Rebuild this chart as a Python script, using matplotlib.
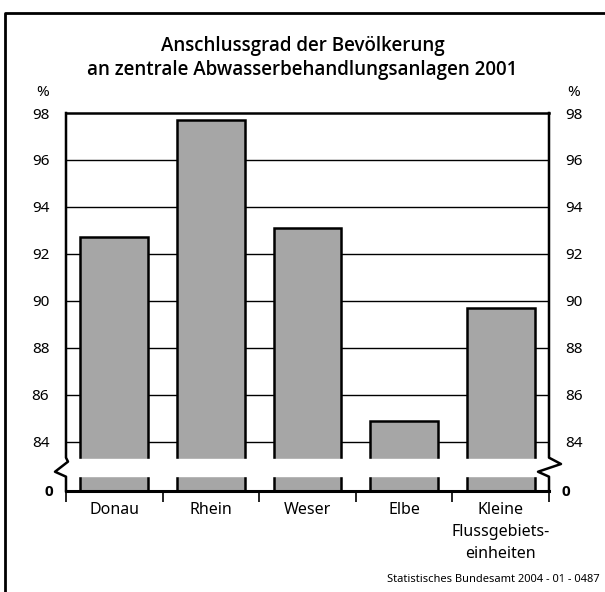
import matplotlib
matplotlib.use("Agg")
import matplotlib.pyplot as plt
from matplotlib.lines import Line2D
import numpy as np

plt.rcParams['font.family'] = ['Noto Sans', 'DejaVu Sans']

categories = ["Donau", "Rhein", "Weser", "Elbe", "Kleine\nFlussgebiets-\neinheiten"]
values = [92.7, 97.7, 93.1, 84.9, 89.7]
yticks = [84, 86, 88, 90, 92, 94, 96, 98]
title = "Anschlussgrad der Bevölkerung\nan zentrale Abwasserbehandlungsanlagen 2001"
source = "Statistisches Bundesamt 2004 - 01 - 0487"

W, H = 605, 592
fig = plt.figure(figsize=(W / 100, H / 100), dpi=100)

# axes box in pixel coordinates
left, right, top, bottom = 66, 549, 113, 491
ax = fig.add_axes([left / W, 1 - bottom / H, (right - left) / W, (bottom - top) / H])

y_floor = 81.9   # position of the broken-axis zero line
ax.set_ylim(y_floor, 98)
ax.set_xlim(-0.5, len(categories) - 0.5)

x = np.arange(len(categories))
ax.bar(x, [v - y_floor for v in values], bottom=y_floor, width=0.7,
       color="#a6a6a6", edgecolor="black", linewidth=1.8, zorder=2)

# horizontal gridlines
for t in yticks[:-1]:
    ax.axhline(t, color="black", linewidth=1.0, zorder=1)

# spines: top and bottom from matplotlib, sides drawn by hand with break marks
for s in ("left", "right"):
    ax.spines[s].set_visible(False)
ax.spines["top"].set_linewidth(1.8)
ax.spines["bottom"].set_linewidth(2.2)

# white gap through bars marking the axis break
band_lo, band_hi = 82.55, 83.25
ax.fill_between([0, 1], band_lo, band_hi, color="white", zorder=3,
                transform=ax.get_yaxis_transform())

tr = ax.get_yaxis_transform()
px = 1.0 / (right - left)
ax.plot([0, 0, 2 * px, -11 * px, 0, 0], [98, 83.32, 83.15, 82.72, 82.51, y_floor],
        color="black", linewidth=1.8, transform=tr, clip_on=False, zorder=4)
ax.plot([1, 1, 1 + 12 * px, 1 - 11 * px, 1, 1], [98, 83.32, 83.05, 82.72, 82.51, y_floor],
        color="black", linewidth=1.8, transform=tr, clip_on=False, zorder=4)

# y tick labels on both sides
ax.set_yticks(yticks)
ax.set_yticklabels([str(t) for t in yticks])
ax.tick_params(axis="y", length=0, labelsize=11, pad=12, left=True, right=True,
               labelleft=True, labelright=True)

# bold zero at the foot of the broken axis, on both sides
bold_family = ["Open Sans", "DejaVu Sans"]
ax.text(-13 * px, y_floor, "0", transform=tr, ha="right", va="center_baseline",
        fontsize=11, fontweight="bold", family=bold_family)
ax.text(1 + 13 * px, y_floor, "0", transform=tr, ha="left", va="center_baseline",
        fontsize=11, fontweight="bold", family=bold_family)

# x ticks: labels centred, short ticks on category boundaries
ax.set_xticks(x)
ax.set_xticklabels(categories, linespacing=1.5)
ax.tick_params(axis="x", which="major", length=0, labelsize=11.5, pad=8)
ax.set_xticks(np.arange(-0.5, len(categories)), minor=True)
ax.tick_params(axis="x", which="minor", length=8, width=1.2, direction="out")

# percent signs above axes
fig.text(43 / W, 1 - 92 / H, "%", ha="center", va="center", fontsize=11)
fig.text(574 / W, 1 - 92 / H, "%", ha="center", va="center", fontsize=11)

fig.text(0.5, 1 - 58 / H, title, ha="center", va="center", fontsize=13.5,
         fontweight="semibold", family=["Open Sans", "Noto Sans", "DejaVu Sans"],
         linespacing=1.3)
fig.text(600 / W, 1 - 580 / H, source, ha="right", va="center", fontsize=8)

# outer frame (top and left edges visible)
fig.add_artist(Line2D([5 / W, 5 / W, 1.0], [0, 1 - 13 / H, 1 - 13 / H],
                      transform=fig.transFigure, color="black", linewidth=2))

fig.savefig("out.png", dpi=100)
